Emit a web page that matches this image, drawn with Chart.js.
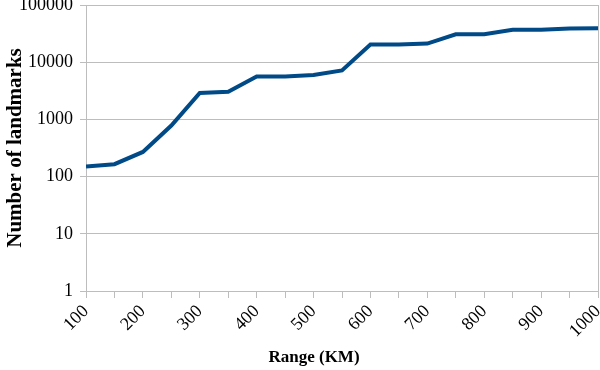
<!DOCTYPE html>
<html>
<head>
<meta charset="utf-8">
<script src="https://cdn.jsdelivr.net/npm/chart.js@4/dist/chart.umd.min.js"></script>
<style>
  body { margin: 0; background: #fff; }
  #wrap { width: 600px; height: 370px; }
</style>
</head>
<body>
<div id="wrap"><canvas id="graph1" width="600" height="370"></canvas></div>
<script>
// range in km, step 50
const ranges = [100, 150, 200, 250, 300, 350, 400, 450, 500, 550,
                600, 650, 700, 750, 800, 850, 900, 950, 1000];
// number of landmarks within that range
const landmarks = [150, 165, 270, 780, 2900, 3050, 5600, 5650, 5950, 7200,
                   20300, 20300, 21200, 30700, 30900, 37000, 37000, 39000, 39100];
const yTicks = [1, 10, 100, 1000, 10000, 100000];
const xTitle = "Range (KM)";
const yTitle = "Number of landmarks";

const serif = "Liberation Serif";
const ctx = document.getElementById("graph1").getContext('2d');

// x title sits a bit left of the plot centre in the original
const xTitlePlugin = {
  id: "xTitle",
  afterDraw(chart) {
    const c = chart.ctx;
    const x = chart.scales.x;
    c.save();
    c.font = "bold 17px " + serif;
    c.fillStyle = "#000";
    c.textAlign = "center";
    c.textBaseline = "alphabetic";
    c.fillText(xTitle, (x.left + x.right) / 2 - 28, x.bottom - 8);
    c.restore();
  },
};

let myChart = new Chart(ctx, {
  type: "line",
  data: {
    datasets: [
      {
        label: "Landmarks",
        data: ranges.map((r, i) => ({ x: r, y: landmarks[i] })),
        borderColor: "#004a87",
        borderWidth: 4,
        pointRadius: 0,
        tension: 0,
        fill: false,
      },
    ],
  },
  options: {
    responsive: false,
    animation: false,
    layout: {
      padding: { top: 5, right: 2, left: 0, bottom: 0 },
    },
    plugins: {
      legend: { display: false },
      tooltip: { enabled: false },
    },
    scales: {
      x: {
        type: "linear",
        min: 100,
        max: 1000,
        afterFit: (axis) => {
          axis.height = 79;
          axis.paddingLeft = 0;
          axis.paddingRight = 0;
        },
        ticks: {
          stepSize: 50,
          autoSkip: false,
          maxRotation: 45,
          minRotation: 45,
          color: "#000",
          font: { family: serif, size: 18 },
          callback: (v) => (v % 100 === 0 ? String(v) : ""),
        },
        grid: {
          drawOnChartArea: false,
          drawTicks: true,
          tickLength: 7,
          color: "#bdbdbd",
        },
        border: { color: "#bdbdbd", width: 1 },
      },
      y: {
        type: "logarithmic",
        min: 1,
        max: 100000,
        afterBuildTicks: (axis) => {
          axis.ticks = yTicks.map((v) => ({ value: v }));
        },
        afterFit: (axis) => {
          axis.width = 86;
          axis.paddingTop = 0;
          axis.paddingBottom = 0;
        },
        ticks: {
          color: "#000",
          padding: 7,
          font: { family: serif, size: 18 },
          callback: (v) => String(v),
        },
        grid: {
          color: "#bdbdbd",
          drawTicks: true,
          tickLength: 6,
        },
        border: { color: "#bdbdbd", width: 1 },
        title: {
          display: true,
          text: yTitle,
          color: "#000",
          font: { family: serif, size: 21, weight: "bold" },
          padding: { top: 3, bottom: 0 },
        },
      },
      y2: {
        position: "right",
        display: true,
        afterFit: (axis) => {
          axis.width = 0;
        },
        ticks: { display: false },
        grid: { display: false },
        border: { color: "#bdbdbd", width: 1 },
      },
    },
  },
  plugins: [xTitlePlugin],
});
</script>
</body>
</html>
